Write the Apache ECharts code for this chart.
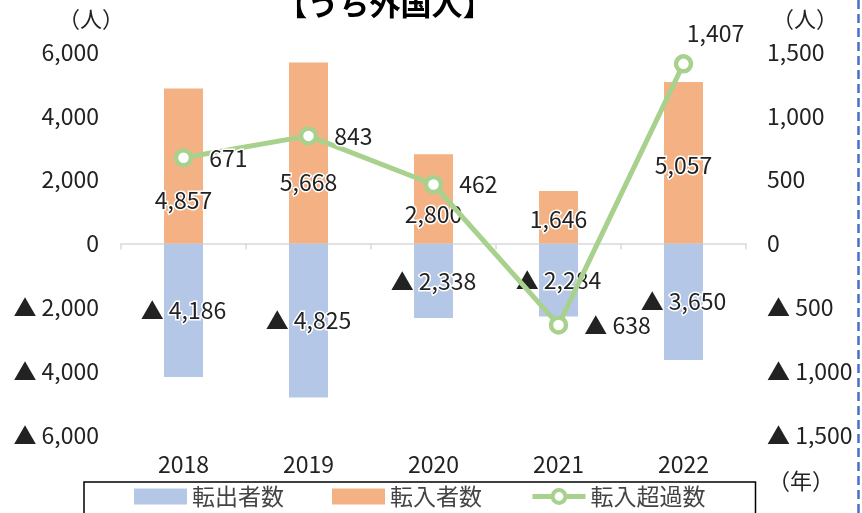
<!DOCTYPE html>
<html>
<head>
<meta charset="utf-8">
<script src="https://cdn.jsdelivr.net/npm/echarts@6/dist/echarts.min.js"></script>
<style>
html,body{margin:0;padding:0;background:#fff;}
#chart{width:862px;height:513px;}
</style>
</head>
<body>
<div id="chart"></div>
<script>
var years = ['2018', '2019', '2020', '2021', '2022'];
var outflow = [-4186, -4825, -2338, -2284, -3650];
var inflow = [4857, 5668, 2800, 1646, 5057];
var netInflow = [671, 843, 462, -638, 1407];
var inflowLabelOffsets = [34, 29, 15, 2, 2];
var leftTicks = { min: -6000, max: 6000, interval: 2000 };
var rightTicks = { min: -1500, max: 1500, interval: 500 };

var FONT = '"Noto Sans CJK JP", "Noto Sans", sans-serif';
var TXT = '#222';
var GREEN = '#a9d18e';

function fmt(v) {
  var a = Math.abs(v).toLocaleString('en-US');
  return v < 0 ? '▲ ' + a : a;
}

var chart = echarts.init(document.getElementById('chart'));

var inflowData = inflow.map(function (v, i) {
  return { value: v, label: { offset: [0, inflowLabelOffsets[i]] } };
});
var netData = netInflow.map(function (v, i) {
  if (i === 4) {
    return { value: v, label: { position: 'top', distance: 5, offset: [32, -4] } };
  }
  return v;
});

var labelBase = {
  show: true,
  fontFamily: FONT,
  fontSize: 23,
  color: TXT,
  textBorderColor: '#fff',
  textBorderWidth: 3,
  formatter: function (p) { return fmt(p.value); }
};

chart.setOption({
  animation: false,
  backgroundColor: '#fff',
  textStyle: { fontFamily: FONT },
  title: {
    text: '【うち外国人】',
    left: 380,
    top: -17,
    textAlign: 'center',
    textStyle: { fontFamily: FONT, fontSize: 31, fontWeight: 'bold', color: '#000' }
  },
  grid: { left: 121, right: 116, top: 52, bottom: 78, containLabel: false },
  legend: {
    data: [
      { name: '転出者数', icon: 'rect' },
      { name: '転入者数', icon: 'rect' },
      { name: '転入超過数', lineStyle: { width: 5 }, itemStyle: { borderWidth: 4 } }
    ],
    left: 84,
    top: 482,
    padding: [3, 50, 30, 50],
    itemGap: 48,
    itemWidth: 53,
    itemHeight: 16,
    borderColor: '#000',
    borderWidth: 1.5,
    textStyle: { fontFamily: FONT, fontSize: 23, color: '#444' }
  },
  xAxis: [
    {
      type: 'category',
      data: years,
      position: 'bottom',
      axisLine: { onZero: true, lineStyle: { color: '#d9d9d9', width: 1.5 } },
      axisTick: { show: true, length: 6, lineStyle: { color: '#d9d9d9', width: 1.5 } },
      axisLabel: { show: false }
    },
    {
      type: 'category',
      data: years,
      position: 'bottom',
      axisLine: { show: false, onZero: false },
      axisTick: { show: false },
      axisLabel: { show: true, margin: 18, fontFamily: FONT, fontSize: 23, color: TXT }
    }
  ],
  yAxis: [
    {
      type: 'value',
      min: leftTicks.min, max: leftTicks.max, interval: leftTicks.interval,
      axisLine: { show: false },
      axisTick: { show: false },
      splitLine: { show: false },
      axisLabel: { margin: 22, fontFamily: FONT, fontSize: 23, color: TXT, formatter: fmt }
    },
    {
      type: 'value',
      position: 'right',
      min: rightTicks.min, max: rightTicks.max, interval: rightTicks.interval,
      axisLine: { show: false },
      axisTick: { show: false },
      splitLine: { show: false },
      axisLabel: { margin: 21, fontFamily: FONT, fontSize: 23, color: TXT, formatter: fmt }
    }
  ],
  series: [
    {
      name: '転出者数',
      type: 'bar',
      stack: 'flow',
      barWidth: 39,
      data: outflow,
      itemStyle: { color: '#b4c7e7' },
      label: Object.assign({}, labelBase, { position: 'inside' })
    },
    {
      name: '転入者数',
      type: 'bar',
      stack: 'flow',
      barWidth: 39,
      data: inflowData,
      itemStyle: { color: '#f4b183' },
      label: Object.assign({}, labelBase, { position: 'inside' })
    },
    {
      name: '転入超過数',
      type: 'line',
      yAxisIndex: 1,
      data: netData,
      symbol: 'circle',
      symbolSize: 15,
      itemStyle: { color: '#fff', borderColor: GREEN, borderWidth: 4.5 },
      lineStyle: { color: GREEN, width: 5 },
      z: 5,
      label: Object.assign({}, labelBase, { position: 'right', distance: 16 })
    }
  ],
  graphic: [
    { type: 'text', left: 58, top: 8, style: { text: '（人）', font: '22px ' + FONT, fill: TXT } },
    { type: 'text', left: 772, top: 8, style: { text: '（人）', font: '22px ' + FONT, fill: TXT } },
    { type: 'text', left: 768, top: 470, style: { text: '（年）', font: '22px ' + FONT, fill: TXT } },
    { type: 'line', shape: { x1: 858.5, y1: 0, x2: 858.5, y2: 513 },
      style: { stroke: '#4472c4', lineWidth: 2.5, lineDash: [9, 5] } }
  ]
});
</script>
</body>
</html>
